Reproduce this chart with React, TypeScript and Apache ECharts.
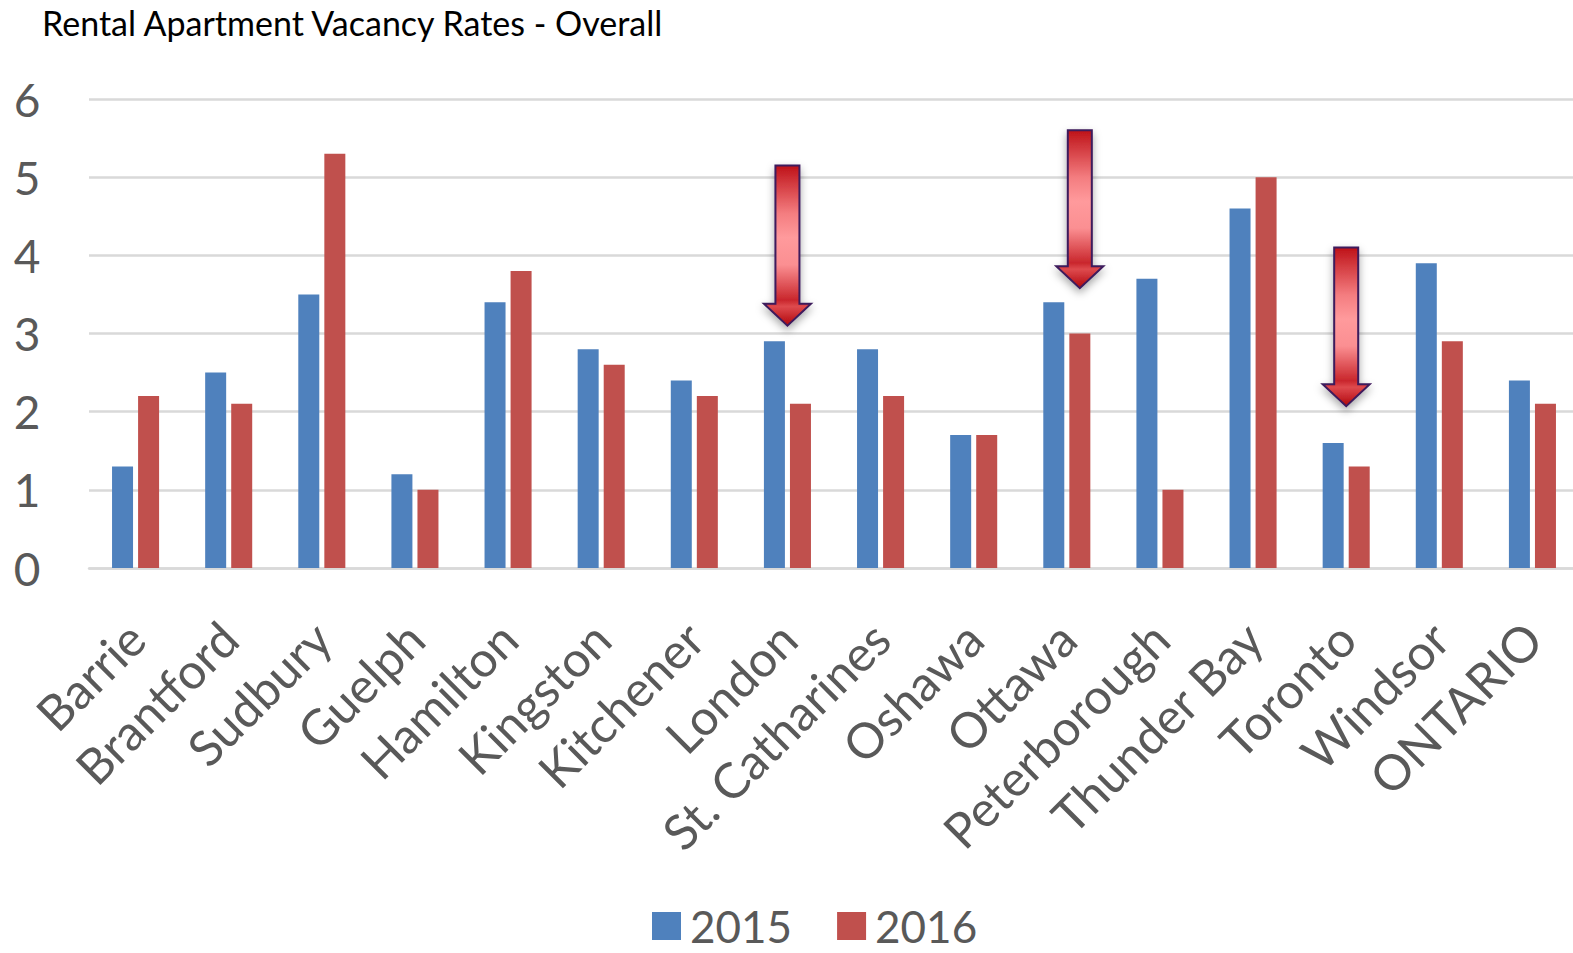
import React, { useEffect, useRef } from "react";
import * as echarts from "echarts";

const titleText = "Rental Apartment Vacancy Rates - Overall";
const categories = [
  "Barrie", "Brantford", "Sudbury", "Guelph", "Hamilton", "Kingston", "Kitchener", "London",
  "St. Catharines", "Oshawa", "Ottawa", "Peterborough", "Thunder Bay", "Toronto", "Windsor", "ONTARIO",
];
const seriesNames = ["2015", "2016"];
const rates2015 = [1.3, 2.5, 3.5, 1.2, 3.4, 2.8, 2.4, 2.9, 2.8, 1.7, 3.4, 3.7, 4.6, 1.6, 3.9, 2.4];
const rates2016 = [2.2, 2.1, 5.3, 1.0, 3.8, 2.6, 2.2, 2.1, 2.2, 1.7, 3.0, 1.0, 5.0, 1.3, 2.9, 2.1];
const yMin = 0;
const yMax = 6;
const yInterval = 1;

// Annotation arrows (values in axis units)
const arrowCategories = ["London", "Ottawa", "Toronto"];
const arrowTops = [5.15, 5.6, 4.1];
const arrowTips = [3.1, 3.58, 2.07];
const arrowOverSeries = ["", "2016", ""];

const FONT = "Lato, 'Open Sans', sans-serif";
const BAR_W = 21;
const BAR_GAP_PX = 5;

export default function App() {
  const ref = useRef<HTMLDivElement>(null);
  useEffect(() => {
    if (!ref.current) return;
    const chart = echarts.init(ref.current, undefined, { renderer: "svg" });
    chart.setOption({
      animation: false,
      backgroundColor: "#ffffff",
      title: {
        text: titleText,
        left: 37,
        top: 0,
        textStyle: { fontFamily: FONT, fontSize: 34, fontWeight: "normal", color: "#000000" },
      },
      legend: {
        data: seriesNames,
        left: 647,
        top: 899,
        itemWidth: 29,
        itemHeight: 28,
        itemGap: 45,
        icon: "rect",
        textStyle: { fontFamily: FONT, fontSize: 44, color: "#595959", padding: [0, 0, 0, 4] },
      },
      grid: { left: 89, top: 99, width: 1490, height: 469, containLabel: false },
      xAxis: {
        type: "category",
        data: categories,
        axisTick: { show: false },
        axisLine: { show: true, lineStyle: { color: "#D9D9D9", width: 2.5 } },
        axisLabel: {
          interval: 0,
          rotate: 45,
          margin: 62,
          fontFamily: FONT,
          fontSize: 49,
          color: "#595959",
        },
      },
      yAxis: {
        type: "value",
        min: yMin,
        max: yMax,
        interval: yInterval,
        axisLine: { show: false },
        axisTick: { show: false },
        splitLine: { lineStyle: { color: "#D9D9D9", width: 2.5 } },
        axisLabel: {
          margin: 62,
          align: "center",
          fontFamily: FONT,
          fontSize: 46,
          color: "#595959",
        },
      },
      series: [
        {
          name: seriesNames[0],
          type: "bar",
          data: rates2015,
          barWidth: BAR_W,
          barGap: `${Math.round((BAR_GAP_PX / BAR_W) * 100)}%`,
          itemStyle: { color: "#4F81BD" },
        },
        {
          name: seriesNames[1],
          type: "bar",
          data: rates2016,
          barWidth: BAR_W,
          itemStyle: { color: "#C0504D" },
        },
      ],
    });

    const shaftHalf = 12;
    const headHalf = 23.5;
    const headLen = 22;
    const graphics = arrowCategories.map((cat, i) => {
      const idx = categories.indexOf(cat);
      const topPt = chart.convertToPixel({ gridIndex: 0 }, [idx, arrowTops[i]]) as number[];
      const tipPt = chart.convertToPixel({ gridIndex: 0 }, [idx, arrowTips[i]]) as number[];
      let cx = topPt[0];
      if (arrowOverSeries[i] === seriesNames[1]) cx += (BAR_W + BAR_GAP_PX) / 2;
      if (arrowOverSeries[i] === seriesNames[0]) cx -= (BAR_W + BAR_GAP_PX) / 2;
      const top = topPt[1];
      const tip = tipPt[1];
      const headY = tip - headLen;
      return {
        type: "polygon",
        z: 100,
        shape: {
          points: [
            [cx - shaftHalf, top],
            [cx + shaftHalf, top],
            [cx + shaftHalf, headY],
            [cx + headHalf, headY],
            [cx, tip],
            [cx - headHalf, headY],
            [cx - shaftHalf, headY],
          ],
        },
        style: {
          fill: new echarts.graphic.LinearGradient(0, 0, 0, 1, [
            { offset: 0, color: "#BE1218" },
            { offset: 0.3, color: "#F47D80" },
            { offset: 0.45, color: "#FF9A9C" },
            { offset: 0.62, color: "#FB8F92" },
            { offset: 0.84, color: "#C9262C" },
            { offset: 0.88, color: "#DE4A4E" },
            { offset: 1, color: "#B0060C" },
          ]),
          stroke: "#3E1A5C",
          lineWidth: 2,
          shadowBlur: 8,
          shadowOffsetX: 0,
          shadowOffsetY: 4,
          shadowColor: "rgba(0,0,0,0.35)",
        },
      };
    });
    chart.setOption({ graphic: graphics });

    return () => chart.dispose();
  }, []);
  return (
    <div style={{ position: "absolute", left: 0, top: 0, width: 1573, height: 953, overflow: "hidden", background: "#fff" }}>
      <div ref={ref} style={{ width: 1600, height: 953 }} />
    </div>
  );
}
